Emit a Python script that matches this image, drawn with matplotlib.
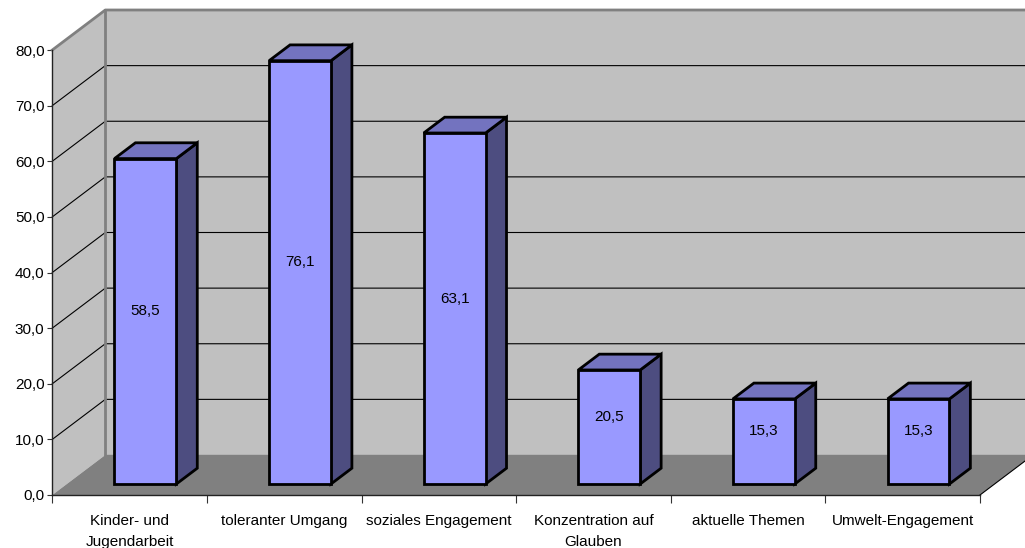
import matplotlib
matplotlib.use("Agg")
import matplotlib.pyplot as plt
from matplotlib.patches import Polygon

categories = ["Kinder- und\nJugendarbeit", "toleranter Umgang", "soziales Engagement",
              "Konzentration auf\nGlauben", "aktuelle Themen", "Umwelt-Engagement"]
values = [58.5, 76.1, 63.1, 20.5, 15.3, 15.3]
value_labels = ["58,5", "76,1", "63,1", "20,5", "15,3", "15,3"]
y_ticks = [0, 10, 20, 30, 40, 50, 60, 70, 80]
y_tick_labels = ["0,0", "10,0", "20,0", "30,0", "40,0", "50,0", "60,0", "70,0", "80,0"]

plt.rcParams["font.family"] = ["Liberation Sans", "DejaVu Sans"]
W, H = 1025, 548
L, R, T, B = 52.3, 980.0, 50.0, 495.0
FS = 11
fig = plt.figure(figsize=(W / 100, H / 100), dpi=100)
ax = fig.add_axes([L / W, 1 - B / H, (R - L) / W, (B - T) / H])
ax.set_xlim(0, 6)
ax.set_ylim(0, 80)
ax.patch.set_visible(False)

# oblique depth offset in data units
px_x = 6 / (R - L)
px_y = 80 / (B - T)
DX = 53 * px_x
DY = 40 * px_y


def P(x, y, d=0.0):
    return (x + d * DX, y + d * DY)


def poly(pts, **kw):
    kw.setdefault("clip_on", False)
    ax.add_patch(Polygon(pts, closed=True, **kw))


wall = "#C0C0C0"
floor = "#808080"
edge = "#808080"
# back wall, side wall, floor
poly([P(0, 0, 1), P(6, 0, 1), P(6, 80, 1), P(0, 80, 1)], fc=wall, ec="none", zorder=1)
poly([P(0, 0), P(0, 0, 1), P(0, 80, 1), P(0, 80)], fc=wall, ec="none", zorder=1)
poly([P(0, 0), P(6, 0), P(6, 0, 1), P(0, 0, 1)], fc=floor, ec="none", zorder=1)

# gridlines
for v in y_ticks[1:-1]:
    ax.plot(*zip(P(0, v), P(0, v, 1), P(6, v, 1)), color="black", lw=0.8, clip_on=False, zorder=2,
            solid_joinstyle="miter")
# wall borders
ax.plot(*zip(P(0, 80), P(0, 80, 1), P(6, 80, 1)), color=edge, lw=2.0, clip_on=False, zorder=3)
ax.plot(*zip(P(0, 0, 1), P(0, 80, 1)), color=edge, lw=2.0, clip_on=False, zorder=3)
ax.plot(*zip(P(0, 0, 1), P(6, 0, 1)), color=edge, lw=1.0, clip_on=False, zorder=2)
# floor front edges
ax.plot(*zip(P(6, 0), P(6, 0, 1)), color="black", lw=0.8, clip_on=False, zorder=3)

# bars
d0, d1 = 0.275, 0.67
hw = 0.2
shift = 0.008
for i, (v, lab) in enumerate(zip(values, value_labels)):
    x0 = i + 0.5 - hw + shift
    x1 = i + 0.5 + hw + shift
    st = dict(ec="black", lw=2.0, joinstyle="miter", zorder=5)
    poly([P(x1, 0, d0), P(x1, 0, d1), P(x1, v, d1), P(x1, v, d0)], fc="#4D4D80", **st)
    poly([P(x0, v, d0), P(x1, v, d0), P(x1, v, d1), P(x0, v, d1)], fc="#7373BF", **st)
    poly([P(x0, 0, d0), P(x1, 0, d0), P(x1, v, d0), P(x0, v, d0)], fc="#9999FF", **st)
    cx, cy = P(i + 0.5 + shift, v / 2, d0 + 0.25)
    ax.text(i + 0.5 + shift + d0 * DX, cy, lab, ha="center", va="center", fontsize=FS, color="black",
            zorder=6, clip_on=False)

for s in ["top", "right"]:
    ax.spines[s].set_visible(False)
ax.spines["left"].set_zorder(4)
ax.spines["bottom"].set_zorder(4)
ax.spines["left"].set_color("#222222")
ax.spines["bottom"].set_color("#222222")
ax.spines["left"].set_linewidth(1.0)
ax.spines["bottom"].set_linewidth(1.0)
ax.set_axisbelow(False)

ax.set_yticks(y_ticks)
ax.set_yticklabels(y_tick_labels, fontsize=FS)
ax.set_xticks(range(7))
ax.set_xticklabels([""] * 7)
ax.set_xticks([i + 0.5 for i in range(6)], minor=True)
ax.set_xticklabels(categories, minor=True, fontsize=FS, linespacing=1.65)
ax.tick_params(axis="x", which="major", length=5.8, width=0.8, color="#333333", direction="out")
ax.tick_params(axis="x", which="minor", length=0, pad=13.5)
ax.tick_params(axis="y", length=3.6, width=0.8, color="#333333", pad=2, direction="out")

fig.savefig("out.png", dpi=100)
